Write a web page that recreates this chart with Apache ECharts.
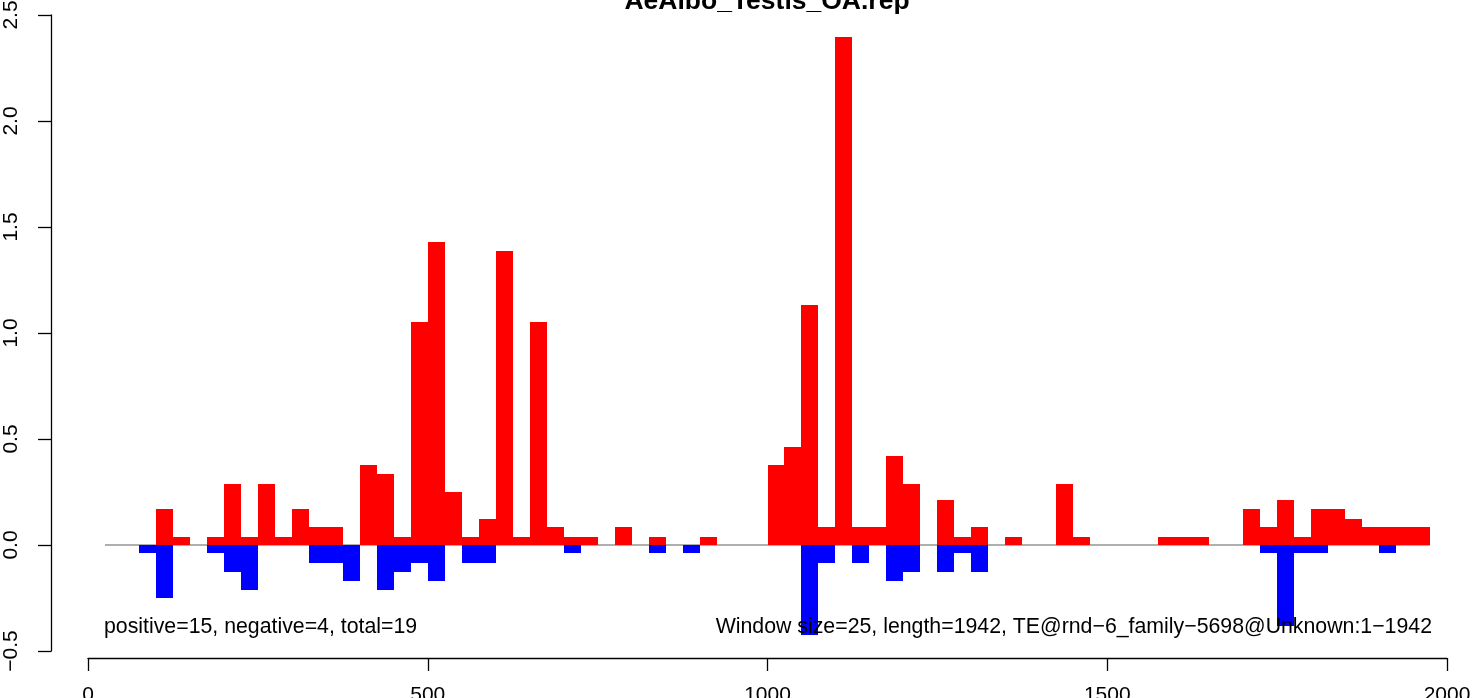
<!DOCTYPE html>
<html><head><meta charset="utf-8">
<script src="https://cdn.jsdelivr.net/npm/echarts@6/dist/echarts.min.js"></script>
<style>html,body{margin:0;padding:0;background:#fff}#c{width:1475px;height:698px}</style>
</head><body><div id="c"></div>
<script>
const titleText = 'AeAlbo_Testis_OA.rep';
const windowSize = 25;
const seqLength = 1942;
const leftNote = 'positive=15, negative=4, total=19';
const rightNote = 'Window size=25, length=1942, TE@rnd\u22126_family\u22125698@Unknown:1\u22121942';
const positive = [
  0, 0, 0, 0.17, 0.04, 0, 0.04, 0.29, 0.04, 0.29,
  0.04, 0.17, 0.085, 0.085, 0, 0.377, 0.335, 0.04, 1.052, 1.43,
  0.25, 0.04, 0.125, 1.387, 0.04, 1.052, 0.085, 0.04, 0.04, 0,
  0.085, 0, 0.04, 0, 0, 0.04, 0, 0, 0, 0.377,
  0.462, 1.132, 0.085, 2.396, 0.085, 0.085, 0.42, 0.29, 0, 0.21,
  0.04, 0.085, 0, 0.04, 0, 0, 0.29, 0.04, 0, 0,
  0, 0, 0.04, 0.04, 0.04, 0, 0, 0.17, 0.085, 0.21,
  0.04, 0.17, 0.17, 0.125, 0.085, 0.085, 0.085, 0.085
];
const negative = [
  0, 0, -0.04, -0.25, 0, 0, -0.04, -0.125, -0.21, 0,
  0, 0, -0.085, -0.085, -0.17, 0, -0.21, -0.125, -0.085, -0.17,
  0, -0.085, -0.085, 0, 0, 0, 0, -0.04, 0, 0,
  0, 0, -0.04, 0, -0.04, 0, 0, 0, 0, 0,
  0, -0.425, -0.085, 0, -0.085, 0, -0.17, -0.125, 0, -0.125,
  -0.04, -0.125, 0, 0, 0, 0, 0, 0, 0, 0,
  0, 0, 0, 0, 0, 0, 0, 0, -0.04, -0.38,
  -0.04, -0.04, 0, 0, 0, -0.04, 0, 0
];
const xRange = [0, 2000];
const xStep = 500;
const yRange = [-0.5, 2.5];
const yStep = 0.5;

const FONT = 'Liberation Sans, Arial, Helvetica, sans-serif';

function toWindows(vals) {
  return vals.map((v, i) => [windowSize * (i + 1), windowSize * (i + 2), v]).filter(d => d[2] !== 0);
}
function renderRect(color) {
  return function (params, api) {
    const a = api.coord([api.value(0), 0]);
    const b = api.coord([api.value(1), api.value(2)]);
    const x0 = Math.round(a[0]), x1 = Math.round(b[0]);
    const y0 = Math.round(Math.min(a[1], b[1])), y1 = Math.round(Math.max(a[1], b[1]));
    return { type: 'rect', shape: { x: x0, y: y0, width: x1 - x0, height: y1 - y0 }, style: { fill: color } };
  };
}

const chart = echarts.init(document.getElementById('c'), null, { renderer: 'canvas' });
chart.setOption({
  animation: false,
  backgroundColor: '#ffffff',
  grid: { left: 88, right: 28, top: 15, bottom: 47, containLabel: false, outerBoundsMode: 'none' },
  xAxis: {
    type: 'value', min: xRange[0], max: xRange[1], interval: xStep,
    offset: 7,
    axisLine: { show: true, onZero: false, lineStyle: { color: '#000', width: 1.3 } },
    axisTick: { show: true, length: 13, lineStyle: { color: '#000', width: 1.3 } },
    splitLine: { show: false },
    axisLabel: { fontFamily: FONT, fontSize: 21, color: '#000', margin: 27, formatter: v => String(v) }
  },
  yAxis: {
    type: 'value', min: yRange[0], max: yRange[1], interval: yStep,
    offset: 37,
    axisLine: { show: true, onZero: false, lineStyle: { color: '#000', width: 1.3 } },
    axisTick: { show: true, length: 13, lineStyle: { color: '#000', width: 1.3 } },
    splitLine: { show: false },
    axisLabel: { fontFamily: FONT, fontSize: 21, color: '#000', margin: 29, rotate: 90,
      formatter: v => v.toFixed(1).replace('-', '\u2212') }
  },
  series: [
    {
      type: 'line', data: [[windowSize, 0], [windowSize * (positive.length + 1), 0]],
      symbol: 'none', lineStyle: { color: '#606060', width: 1.2 }, z: 1, silent: true
    },
    { type: 'custom', data: toWindows(positive), renderItem: renderRect('#ff0000'), z: 2, silent: true },
    { type: 'custom', data: toWindows(negative), renderItem: renderRect('#0000ff'), z: 2, silent: true }
  ],
  graphic: [
    { type: 'text', x: 767, y: 2, z: 10,
      style: { text: titleText, font: 'bold 26.5px ' + FONT, fill: '#000', align: 'center', verticalAlign: 'middle' } },
    { type: 'text', x: 104, y: 627, z: 10,
      style: { text: leftNote, font: '21.3px ' + FONT, fill: '#000', align: 'left', verticalAlign: 'middle' } },
    { type: 'text', x: 1432, y: 627, z: 10,
      style: { text: rightNote, font: '21.3px ' + FONT, fill: '#000', align: 'right', verticalAlign: 'middle' } }
  ]
});
</script>
</body></html>
